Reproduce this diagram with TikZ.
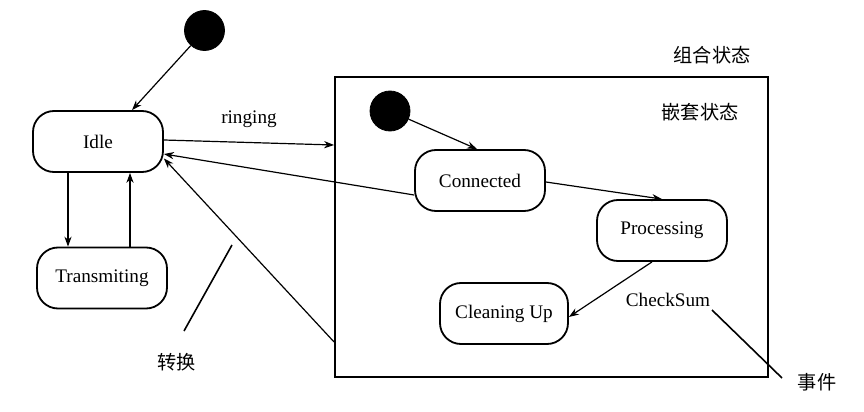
\documentclass[tikz,border=0pt]{standalone}
\usepackage{fontspec}
\setmainfont{Liberation Serif}
\newfontfamily\cjk{Noto Sans CJK SC}
\usetikzlibrary{arrows.meta,calc}
\begin{document}
\begin{tikzpicture}[x=0.5pt,y=-0.5pt,
  every node/.style={font=\fontsize{9.6}{11}\selectfont},
  st/.style={draw,line width=0.9pt,rounded corners=10.5pt,minimum width=65pt,minimum height=30.5pt,inner sep=0pt},
  initst/.style={circle,fill=black,draw=black,minimum size=20pt,inner sep=0pt},
  comp/.style={draw,line width=0.9pt,minimum width=216.5pt,minimum height=150pt,inner sep=0pt},
  tr/.style={line width=0.6pt,-{Stealth[length=5pt,width=3.6pt]}},
  leader/.style={line width=0.8pt},
  lbl/.style={inner sep=1pt}]
\useasboundingbox (0,0) rectangle (864,412);
% composite
\node[comp] (box) at (551.5,227) {};
\node[lbl,font=\cjk\fontsize{9.6}{11}\selectfont] (zuhe) at (712,55) {组合状态};
\node[lbl,font=\cjk\fontsize{9.6}{11}\selectfont] (qiantao) at (700,112) {嵌套状态};
% states
\node[initst] (init1) at (204.5,30.5) {};
\node[st] (idle) at (98,141.5) {Idle};
\node[st] (trans) at (102,278) {Transmiting};
\node[initst] (init2) at (390,111) {};
\node[st] (conn) at (480,180.5) {Connected};
\node[st] (proc) at (662,230.5) {Processing};
\node[st,minimum width=64pt] (clean) at (504,313.5) {Cleaning Up};
% transitions
\draw[tr] (init1) -- ([xshift=17pt]idle.north);
\draw[tr] ([yshift=0.75pt]idle.east) -- node[lbl,above=6pt] (ringing) {ringing} ([yshift=41pt]box.west);
\draw[tr] ([yshift=-7.25pt]conn.west) -- ([yshift=-6.25pt]idle.east);
\draw[tr] ([yshift=-57.5pt]box.west) -- ([yshift=-8.5pt]idle.east);
\draw[tr] ([xshift=-15pt]idle.south) -- ([xshift=-15pt]idle.south |- trans.north);
\draw[tr] ([xshift=16pt]idle.south |- trans.north) -- ([xshift=16pt]idle.south);
\draw[tr] (init2) -- ([xshift=-1.5pt]conn.north);
\draw[tr] ([yshift=-0.75pt]conn.east) -- (proc.north);
\draw[tr] ([xshift=-5pt]proc.south) -- ([yshift=-1.75pt]clean.east);
% labels
\node[lbl] (checksum) at (668,300) {CheckSum};
\node[lbl,font=\cjk\fontsize{9.6}{11}\selectfont] (zhuanhuan) at (177,362) {转换};
\node[lbl,font=\cjk\fontsize{9.6}{11}\selectfont] (shijian) at (817,382) {事件};
\coordinate (za) at (232,245);
\coordinate (zb) at (184,331);
\coordinate (sa) at (712,310);
\coordinate (sb) at (782,378);
\draw[leader] (za) -- (zb);
\draw[leader] (sa) -- (sb);
\end{tikzpicture}
\end{document}
